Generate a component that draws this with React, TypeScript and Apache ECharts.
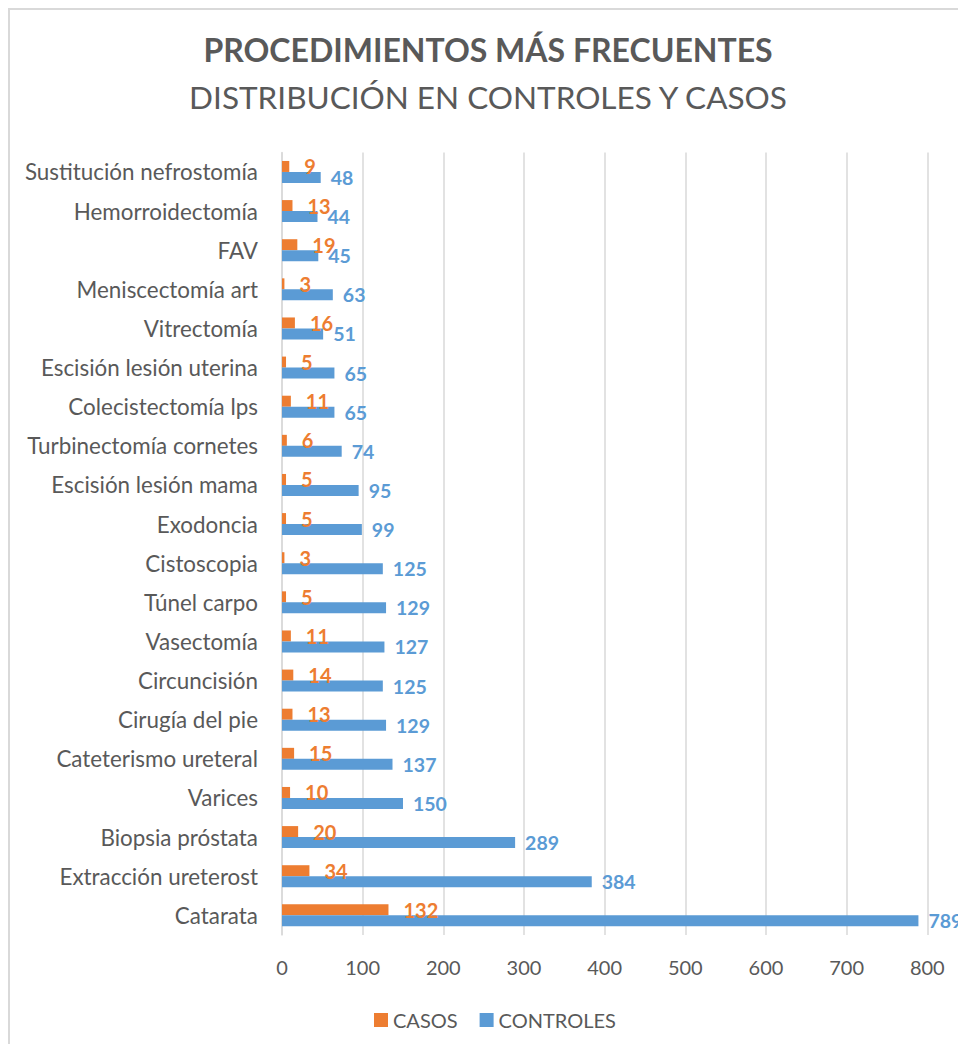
import React, { useEffect, useRef } from "react";
import * as echarts from "echarts";

const categories = [
  "Catarata",
  "Extracción ureterost",
  "Biopsia próstata",
  "Varices",
  "Cateterismo ureteral",
  "Cirugía del pie",
  "Circuncisión",
  "Vasectomía",
  "Túnel carpo",
  "Cistoscopia",
  "Exodoncia",
  "Escisión lesión mama",
  "Turbinectomía cornetes",
  "Colecistectomía lps",
  "Escisión lesión uterina",
  "Vitrectomía",
  "Meniscectomía art",
  "FAV",
  "Hemorroidectomía",
  "Sustitución nefrostomía",
];

const casos = [132, 34, 20, 10, 15, 13, 14, 11, 5, 3, 5, 5, 6, 11, 5, 16, 3, 19, 13, 9];
const controles = [789, 384, 289, 150, 137, 129, 125, 127, 129, 125, 99, 95, 74, 65, 65, 51, 63, 45, 44, 48];

const xTicks = [0, 100, 200, 300, 400, 500, 600, 700, 800];

const titleText = "PROCEDIMIENTOS MÁS FRECUENTES";
const subtitleText = "DISTRIBUCIÓN EN CONTROLES Y CASOS";

const FONT = "Lato, 'Open Sans', sans-serif";
const GREY = "#595959";
const ORANGE = "#ED7D31";
const BLUE = "#5B9BD5";

export default function App() {
  const ref = useRef<HTMLDivElement>(null);

  useEffect(() => {
    if (!ref.current) return;
    const chart = echarts.init(ref.current, undefined, { renderer: "svg" });
    chart.setOption({
      animation: false,
      backgroundColor: "#ffffff",
      textStyle: { fontFamily: FONT },
      title: [
        {
          text: titleText,
          left: "center",
          top: 18,
          textStyle: { fontFamily: FONT, fontSize: 32, fontWeight: "bold", color: GREY },
        },
        {
          text: subtitleText,
          left: "center",
          top: 66,
          textStyle: { fontFamily: FONT, fontSize: 31.5, fontWeight: "normal", color: GREY },
        },
      ],
      legend: {
        data: ["CASOS", "CONTROLES"],
        left: 359,
        top: 995,
        itemWidth: 14,
        itemHeight: 14,
        itemGap: 22,
        icon: "rect",
        textStyle: { fontFamily: FONT, fontSize: 20, color: GREY },
      },
      grid: { left: 272, top: 142.4, width: 645.3, height: 782.5, containLabel: false },
      xAxis: {
        type: "value",
        min: xTicks[0],
        max: xTicks[xTicks.length - 1],
        interval: 100,
        axisLine: { show: false },
        axisTick: { show: false },
        splitLine: { show: true, lineStyle: { color: "#d9d9d9", width: 1.5 } },
        axisLabel: { fontFamily: FONT, fontSize: 20, color: GREY, margin: 22 },
      },
      yAxis: {
        type: "category",
        data: categories,
        axisLine: { show: true, lineStyle: { color: "#d9d9d9", width: 1.5 } },
        axisTick: { show: false },
        axisLabel: { fontFamily: FONT, fontSize: 22.4, color: GREY, margin: 24 },
      },
      series: [
        {
          name: "CASOS",
          type: "bar",
          data: casos,
          barWidth: 11,
          barGap: "0%",
          itemStyle: { color: ORANGE },
          label: {
            show: true,
            position: "right",
            distance: 15,
            fontFamily: FONT,
            fontSize: 20,
            fontWeight: "bold",
            color: ORANGE,
          },
        },
        {
          name: "CONTROLES",
          type: "bar",
          data: controles,
          barWidth: 11,
          barGap: "0%",
          itemStyle: { color: BLUE },
          label: {
            show: true,
            position: "right",
            distance: 10,
            fontFamily: FONT,
            fontSize: 19.5,
            fontWeight: "bold",
            color: BLUE,
          },
        },
      ],
    });
    return () => chart.dispose();
  }, []);

  return (
    <div
      style={{
        width: 958,
        height: 1036,
        borderTop: "2px solid #d9d9d9",
        borderLeft: "2px solid #d9d9d9",
        boxSizing: "border-box",
        position: "relative",
        background: "#fff",
      }}
    >
      <div ref={ref} style={{ position: "absolute", left: 0, top: 0, width: 956, height: 1034 }} />
    </div>
  );
}
